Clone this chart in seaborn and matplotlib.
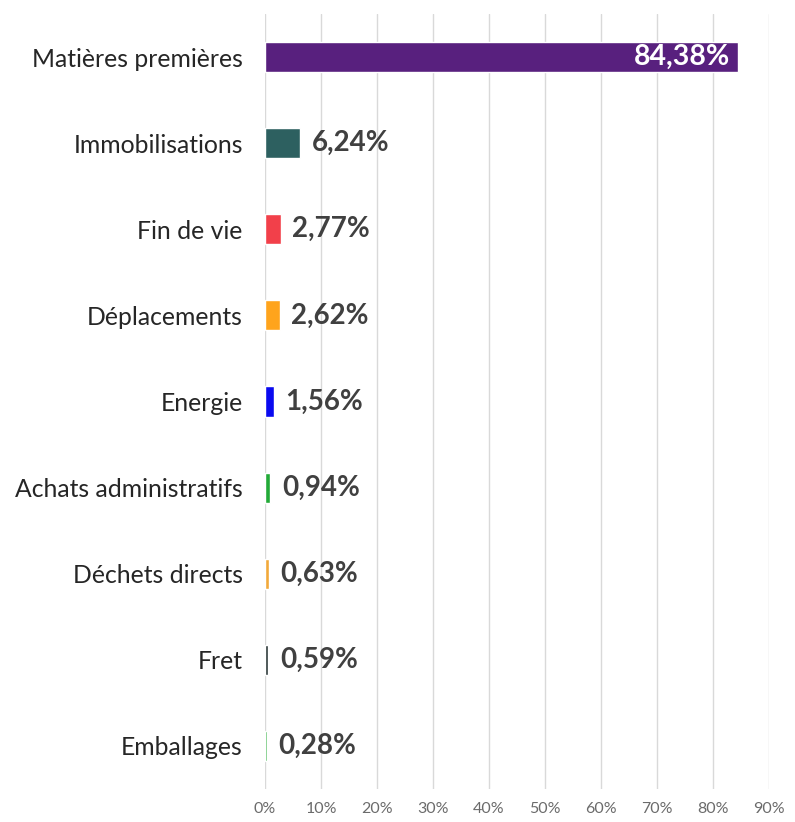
import matplotlib
matplotlib.use("Agg")
import matplotlib.pyplot as plt
import seaborn as sns
import pandas as pd

categories = ["Matières premières", "Immobilisations", "Fin de vie", "Déplacements",
              "Energie", "Achats administratifs", "Déchets directs", "Fret", "Emballages"]
values = [84.38, 6.24, 2.77, 2.62, 1.56, 0.94, 0.63, 0.59, 0.28]
colors = ["#58207E", "#2D6060", "#F2404A", "#FFA41C", "#0A0AF0",
          "#22AA38", "#F2A93A", "#2B3838", "#4CBB5A"]
x_ticks = [0, 10, 20, 30, 40, 50, 60, 70, 80, 90]

sns.set_theme(style="white")
plt.rcParams["font.family"] = ["Lato", "DejaVu Sans"]

df = pd.DataFrame({"cat": categories, "val": values})

fig = plt.figure(figsize=(7.95, 8.22), dpi=100)
ax = fig.add_axes([265 / 795, 1 - 789 / 822, (769 - 265) / 795, (789 - 14) / 822])

sns.barplot(data=df, x="val", y="cat", hue="cat", palette=colors, legend=False,
            width=0.35, ax=ax, saturation=1, orient="h")

ax.set_xlim(0, 90)
ax.set_ylim(8.5, -0.5)
ax.set_xticks(x_ticks)
ax.set_xticklabels([f"{t}%" for t in x_ticks], color="#6B6B6B", fontsize=11.5)
ax.xaxis.grid(True, color="#D9D9D9", linewidth=1)
ax.set_axisbelow(True)
ax.tick_params(axis="x", length=6, color="#D9D9D9", pad=3)
ax.tick_params(axis="y", length=0, pad=16, labelsize=17.8, labelcolor="#262626")
ax.set_xlabel("")
ax.set_ylabel("")
for s in ax.spines.values():
    s.set_visible(False)

for i, v in enumerate(values):
    txt = f"{v:.2f}%".replace(".", ",")
    if v > 50:
        ax.text(v - 1.3, i, txt, ha="right", va="center", color="white",
                fontsize=20.5, fontweight="bold")
    else:
        ax.text(v + 2.1, i, txt, ha="left", va="center", color="#404040",
                fontsize=20, fontweight="bold")

fig.savefig("out.png", dpi=100)
